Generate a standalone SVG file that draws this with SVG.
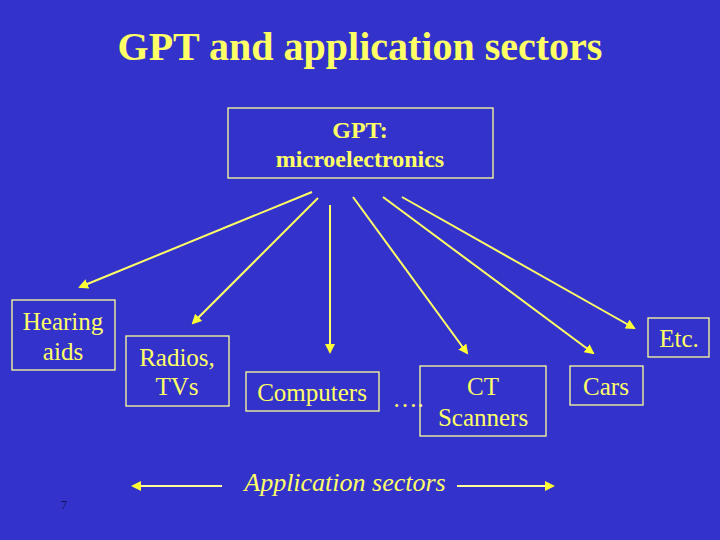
<svg xmlns="http://www.w3.org/2000/svg" width="720" height="540" viewBox="0 0 720 540">
<style>
.b{fill:none;stroke:#FFFF99;stroke-width:1.3}
.t{font-family:"Liberation Serif",serif;font-size:25px;fill:#FFFF66;text-anchor:middle}
.c{stroke:#FFFF66;stroke-width:2;fill:none;marker-end:url(#a)}
</style>
<defs><marker id="a" viewBox="0 0 10 10" refX="8" refY="5" markerWidth="5" markerHeight="5" orient="auto"><path d="M0,0L10,5L0,10z" fill="#FFFF33"/></marker></defs>
<rect width="720" height="540" fill="#3333CC"/>
<text x="360" y="60" style="font-family:'Liberation Serif',serif;font-size:40px;font-weight:bold;fill:#FFFF66;text-anchor:middle">GPT and application sectors</text>
<g id="gpt"><rect class="b" x="228" y="108" width="265" height="70"/><text class="t" x="360" y="138" font-weight="bold" style="font-size:24px">GPT:</text><text class="t" x="360" y="167" font-weight="bold" style="font-size:24px">microelectronics</text></g>
<g id="hearing"><rect class="b" x="12" y="300" width="103" height="70"/><text class="t" x="63" y="330">Hearing</text><text class="t" x="63" y="360">aids</text></g>
<g id="radios"><rect class="b" x="126" y="336" width="103" height="70"/><text class="t" x="177" y="366">Radios,</text><text class="t" x="177" y="395">TVs</text></g>
<g id="computers"><rect class="b" x="246" y="372" width="133" height="39"/><text class="t" x="312" y="401">Computers</text></g>
<text class="t" x="408" y="407">….</text>
<g id="ct"><rect class="b" x="420" y="366" width="126" height="70"/><text class="t" x="483" y="395">CT</text><text class="t" x="483" y="426">Scanners</text></g>
<g id="cars"><rect class="b" x="570" y="366" width="73" height="39"/><text class="t" x="606" y="395">Cars</text></g>
<g id="etc"><rect class="b" x="648" y="318" width="61" height="39"/><text class="t" x="679" y="347">Etc.</text></g>
<g id="connectors">
<line class="c" x1="312" y1="192" x2="80" y2="287"/>
<line class="c" x1="318" y1="198" x2="193" y2="323"/>
<line class="c" x1="330" y1="205" x2="330" y2="352"/>
<line class="c" x1="353" y1="197" x2="467" y2="353"/>
<line class="c" x1="383" y1="197" x2="593" y2="353"/>
<line class="c" x1="402" y1="197" x2="634" y2="328"/>
<line class="c" x1="222" y1="486" x2="133" y2="486" style="stroke:#FFFF99"/>
<line class="c" x1="457" y1="486" x2="553" y2="486" style="stroke:#FFFF99"/>
</g>
<text class="t" x="345" y="491" font-style="italic" style="font-size:26px">Application sectors</text>
<text x="64" y="509" style="font-family:'Liberation Serif',serif;font-size:12px;fill:#111155;text-anchor:middle">7</text>
</svg>
